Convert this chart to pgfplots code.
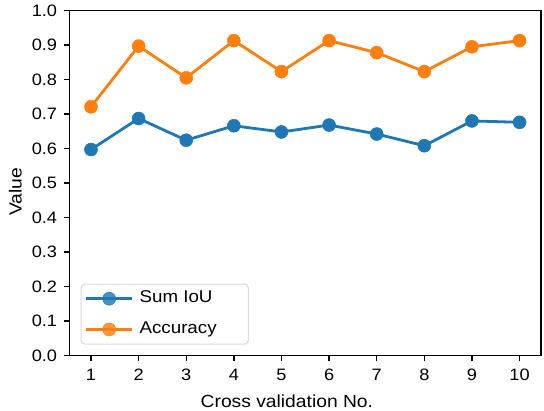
\documentclass[border=0pt]{standalone}
\usepackage{pgfplots}
\pgfplotsset{compat=1.18}
\usepackage{fontspec}
\setmainfont{Liberation Sans}[FakeStretch=1.1]
\usetikzlibrary{calc}
\definecolor{tabblue}{HTML}{1F77B4}
\definecolor{taborange}{HTML}{FF7F0E}
\begin{document}
\begin{tikzpicture}
\begin{axis}[
  name=ax,
  scale only axis,
  width=471pt, height=344.4pt,
  xmin=0.55, xmax=10.45, ymin=0, ymax=1,
  xtick={1,2,3,4,5,6,7,8,9,10},
  ytick={0,0.1,0.2,0.3,0.4,0.5,0.6,0.7,0.8,0.9,1.0},
  yticklabel style={xshift=-3pt, /pgf/number format/fixed, /pgf/number format/fixed zerofill, /pgf/number format/precision=1},
  /pgf/number format/assume math mode=true,
  tick align=outside,
  xtick pos=bottom, ytick pos=left,
  major tick length=6pt,
  every tick/.style={black, line width=1.3pt},
  axis line style={black, line width=1.4pt},
  tick label style={font=\fontsize{16.5}{19}\selectfont},
  xticklabel style={yshift=-4pt},
  label style={font=\fontsize{17.5}{21}\selectfont},
  xlabel={Cross validation No.},
  ylabel={Value},
  xlabel style={at={(axis description cs:0.461,-0.151)}, anchor=base},
  ylabel style={at={(axis description cs:-0.1019,0.475)}, anchor=base, rotate=0},
  legend cell align=left,
  legend style={
    at={(axis description cs:0.0234,0.031)}, anchor=south west,
    draw=black!15, line width=1pt, rounded corners=4pt,
    fill=white, fill opacity=0.8, text opacity=1,
    font=\fontsize{17}{20}\selectfont,
    inner xsep=3.7pt, inner ysep=3.65pt,
    row sep=8.7pt, column sep=3pt,
    nodes={inner xsep=3pt, inner ysep=3pt, text height=12pt, text depth=4pt},
  },
  legend image code/.code={
    \draw[#1, mark repeat=2, mark phase=2] plot coordinates {(0pt,0pt) (23pt,0pt) (46pt,0pt)};
  },
]
\addplot[color=tabblue, line width=2.8pt, mark=*, mark size=6.5pt, mark options={solid, line width=0.5pt}]
  coordinates {(1,0.597) (2,0.687) (3,0.624) (4,0.666) (5,0.648) (6,0.668) (7,0.642) (8,0.608) (9,0.680) (10,0.676)};
\addlegendentry{\makebox[102pt][l]{Sum IoU}}
\addplot[color=taborange, line width=2.8pt, mark=*, mark size=6.5pt, mark options={solid, line width=0.5pt}]
  coordinates {(1,0.721) (2,0.897) (3,0.805) (4,0.913) (5,0.823) (6,0.913) (7,0.878) (8,0.823) (9,0.895) (10,0.913)};
\addlegendentry{\makebox[102pt][l]{Accuracy}}
\end{axis}
\pgfresetboundingbox
\path ($(ax.south west)+(-69.5pt,-55pt)$) rectangle ($(ax.north east)+(3pt,10.6pt)$);
\end{tikzpicture}
\end{document}
